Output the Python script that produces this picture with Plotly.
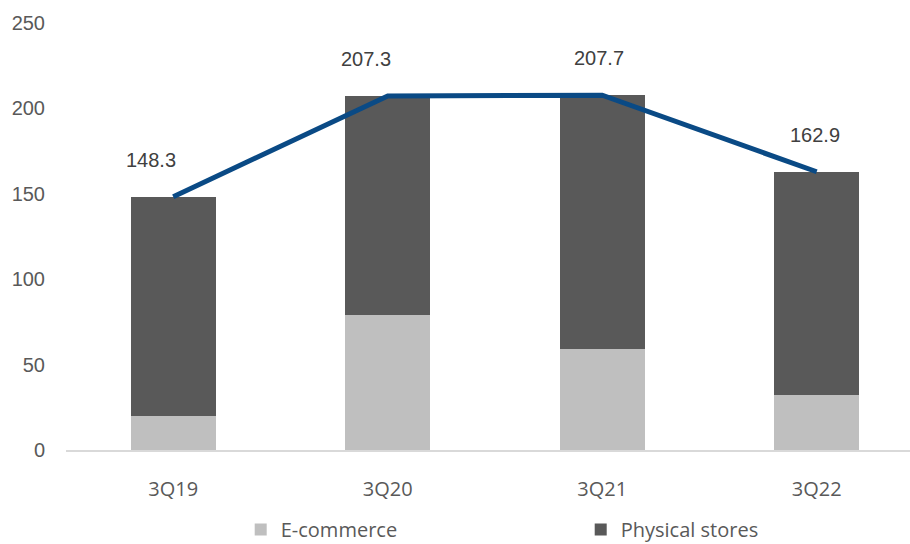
import plotly.graph_objects as go

quarters = ["3Q19", "3Q20", "3Q21", "3Q22"]
ecommerce = [20, 79, 59, 32]
totals = [148.3, 207.3, 207.7, 162.9]
physical = [round(t - e, 1) for t, e in zip(totals, ecommerce)]
y_ticks = [0, 50, 100, 150, 200, 250]

fig = go.Figure()
fig.add_bar(x=quarters, y=ecommerce, name="E-commerce",
            marker=dict(color="#bfbfbf", line_width=0), width=0.396)
fig.add_bar(x=quarters, y=physical, name="Physical stores",
            marker=dict(color="#595959", line_width=0), width=0.396)
fig.add_scatter(x=quarters, y=totals, mode="lines", showlegend=False,
                line=dict(color="#0a4a85", width=5), hoverinfo="skip")

# value labels above the total line
label_shift = [-22, -22, -3, -2]
for q, t, dx in zip(quarters, totals, label_shift):
    fig.add_annotation(x=q, y=t, text=f"{t:.1f}", showarrow=False,
                       xshift=dx, yshift=37,
                       font=dict(family="Liberation Sans, Arial", size=20, color="#404040"))

fig.update_layout(
    barmode="stack",
    width=910, height=544,
    margin=dict(l=66, r=0, t=23, b=94, autoexpand=False),
    plot_bgcolor="white", paper_bgcolor="white",
    showlegend=True,
    legend=dict(orientation="h", x=0.207, xanchor="left", y=-0.186, yanchor="middle",
                entrywidth=295, entrywidthmode="pixels",
                font=dict(family="Open Sans, Liberation Sans", size=20, color="#595959"),
                itemsizing="constant", traceorder="normal"),
    xaxis=dict(range=[-0.5, 3.435], showgrid=False, showline=True,
               linecolor="#d9d9d9", linewidth=2, ticks="",
               ticklabelstandoff=20,
               tickfont=dict(family="Open Sans, Liberation Sans", size=20, color="#595959")),
    yaxis=dict(range=[0, 250], tickvals=y_ticks, showgrid=False, zeroline=False,
               showline=False, ticks="", ticklabelstandoff=20,
               tickfont=dict(family="Liberation Sans, Arial", size=20, color="#595959")),
)

fig.write_html("out.html")
